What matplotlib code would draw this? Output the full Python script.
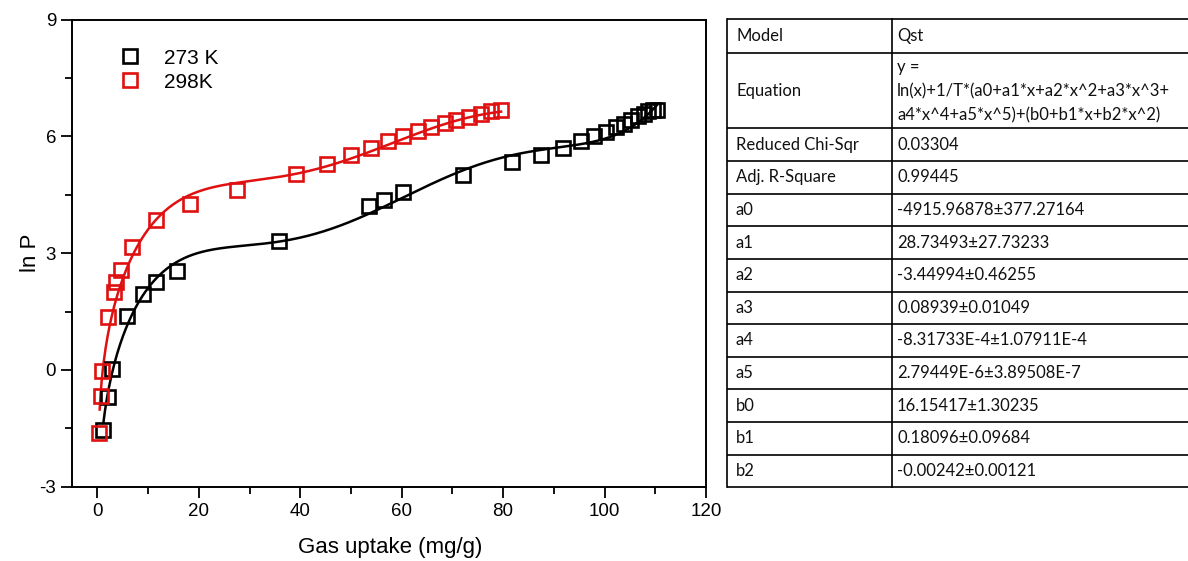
import numpy as np
import matplotlib
matplotlib.use("Agg")
import matplotlib.pyplot as plt
from matplotlib.ticker import MultipleLocator

# ---------------- data ----------------
uptake_273 = [1.2, 2.0, 2.8, 5.8, 8.9, 11.5, 15.7, 35.9, 53.6, 56.5, 60.2, 72.1,
              81.8, 87.5, 91.8, 95.3, 98.0, 100.2, 102.2, 103.8, 105.3, 106.6,
              107.7, 108.6, 109.6, 110.3]
lnp_273 = [-1.54, -0.69, 0.02, 1.39, 1.95, 2.26, 2.53, 3.30, 4.20, 4.37, 4.57, 5.01,
           5.33, 5.53, 5.70, 5.87, 6.00, 6.10, 6.23, 6.32, 6.41, 6.51,
           6.58, 6.64, 6.68, 6.68]

uptake_298 = [0.33, 0.67, 1.0, 2.1, 3.3, 3.75, 4.6, 6.9, 11.5, 18.3, 27.6, 39.2,
              45.3, 50.1, 54.0, 57.4, 60.3, 63.2, 65.7, 68.5, 70.8, 73.3, 75.7,
              77.7, 79.6]
lnp_298 = [-1.63, -0.67, -0.03, 1.35, 2.01, 2.27, 2.57, 3.15, 3.84, 4.27, 4.63, 5.03,
           5.30, 5.51, 5.70, 5.87, 6.00, 6.13, 6.23, 6.34, 6.43, 6.50, 6.58,
           6.64, 6.68]

temps = [273, 298]
series_labels = ["273 K", "298K"]
series_colors = ["black", "#e01010"]
fit_start = [1.2, 0.45]
fit_end = [110.3, 79.6]

# fit parameters (from table)
a_params = [-4915.96878, 28.73493, -3.44994, 0.08939, -8.31733e-4, 2.79449e-6]
b_params = [16.15417, 0.18096, -0.00242]

table_names = ["Model", "Equation", "Reduced Chi-Sqr", "Adj. R-Square",
               "a0", "a1", "a2", "a3", "a4", "a5", "b0", "b1", "b2"]
table_values = ["Qst",
                "y =\nln(x)+1/T*(a0+a1*x+a2*x^2+a3*x^3+\na4*x^4+a5*x^5)+(b0+b1*x+b2*x^2)",
                "0.03304", "0.99445",
                "-4915.96878\u00b1377.27164", "28.73493\u00b127.73233",
                "-3.44994\u00b10.46255", "0.08939\u00b10.01049",
                "-8.31733E-4\u00b11.07911E-4", "2.79449E-6\u00b13.89508E-7",
                "16.15417\u00b11.30235", "0.18096\u00b10.09684", "-0.00242\u00b10.00121"]

# ---------------- figure ----------------
W, H = 1188, 561
plt.rcParams['font.family'] = ['Liberation Sans', 'DejaVu Sans']
plt.rcParams['axes.unicode_minus'] = False
fig = plt.figure(figsize=(W / 100, H / 100), dpi=100)

ax = fig.add_axes([72 / W, 1 - 486.7 / H, (706 - 72) / W, (486.7 - 19.5) / H])

def fit(x, T):
    poly_a = sum(a * x ** i for i, a in enumerate(a_params))
    poly_b = sum(b * x ** i for i, b in enumerate(b_params))
    return np.log(x) + poly_a / T + poly_b

xs_list = [uptake_273, uptake_298]
ys_list = [lnp_273, lnp_298]
for xs, ys, T, lab, col, x0, x1 in zip(xs_list, ys_list, temps, series_labels,
                                       series_colors, fit_start, fit_end):
    xx = np.linspace(x0, x1, 400)
    ax.plot(xx, fit(xx, T), color=col, lw=1.8, zorder=2)
    ax.plot(xs, ys, ls='none', marker='s', ms=10, mfc='none', mec=col, mew=1.9,
            label=lab, zorder=3)

ax.set_xlim(-5, 120)
ax.set_ylim(-3, 9)
ax.xaxis.set_major_locator(MultipleLocator(20))
ax.xaxis.set_minor_locator(MultipleLocator(10))
ax.yaxis.set_major_locator(MultipleLocator(3))
ax.yaxis.set_minor_locator(MultipleLocator(1.5))
ax.tick_params(which='both', direction='out', top=False, right=False,
               labelsize=13.5, width=1.3, colors='black')
ax.tick_params(which='major', length=8)
ax.tick_params(which='minor', length=5)
for s in ax.spines.values():
    s.set_linewidth(1.4)
ax.set_xlabel("Gas uptake (mg/g)", fontsize=16)
ax.set_ylabel("ln P", fontsize=16)
ax.xaxis.set_label_coords((390 - 72) / 634, -(537 - 486.7) / 467.2)
ax.yaxis.set_label_coords((41 - 72) / 634, 0.5)

leg = ax.legend(loc='upper left', bbox_to_anchor=(0.046, 0.978), frameon=False,
                fontsize=15, handletextpad=1.1, labelspacing=0.25, handlelength=1.0)

# ---------------- table ----------------
tax = fig.add_axes([0, 0, 1, 1])
tax.set_xlim(0, W)
tax.set_ylim(H, 0)
tax.axis('off')

x_left, x_mid, x_right = 726.7, 891.7, W
row_h = 32.64
row_edges = [19.3, 52.7, 128.3] + [128.3 + row_h * (i + 1) for i in range(11)]
lw = 1.2
for y in row_edges:
    tax.plot([x_left, x_right], [y, y], color='black', lw=lw, solid_capstyle='butt')
for x in [x_left, x_mid]:
    tax.plot([x, x], [row_edges[0], row_edges[-1]], color='black', lw=lw)

tfont = dict(family=['Lato', 'DejaVu Sans'], fontsize=12, color='#111111')
for i, (name, val) in enumerate(zip(table_names, table_values)):
    yc = (row_edges[i] + row_edges[i + 1]) / 2
    tax.text(736, yc, name, va='center', ha='left', **tfont)
    if "\n" in val:
        tax.text(897, yc + 1, val, va='center', ha='left', linespacing=1.62, **tfont)
    else:
        tax.text(897, yc, val, va='center', ha='left', **tfont)

fig.savefig("out.png", dpi=100)
